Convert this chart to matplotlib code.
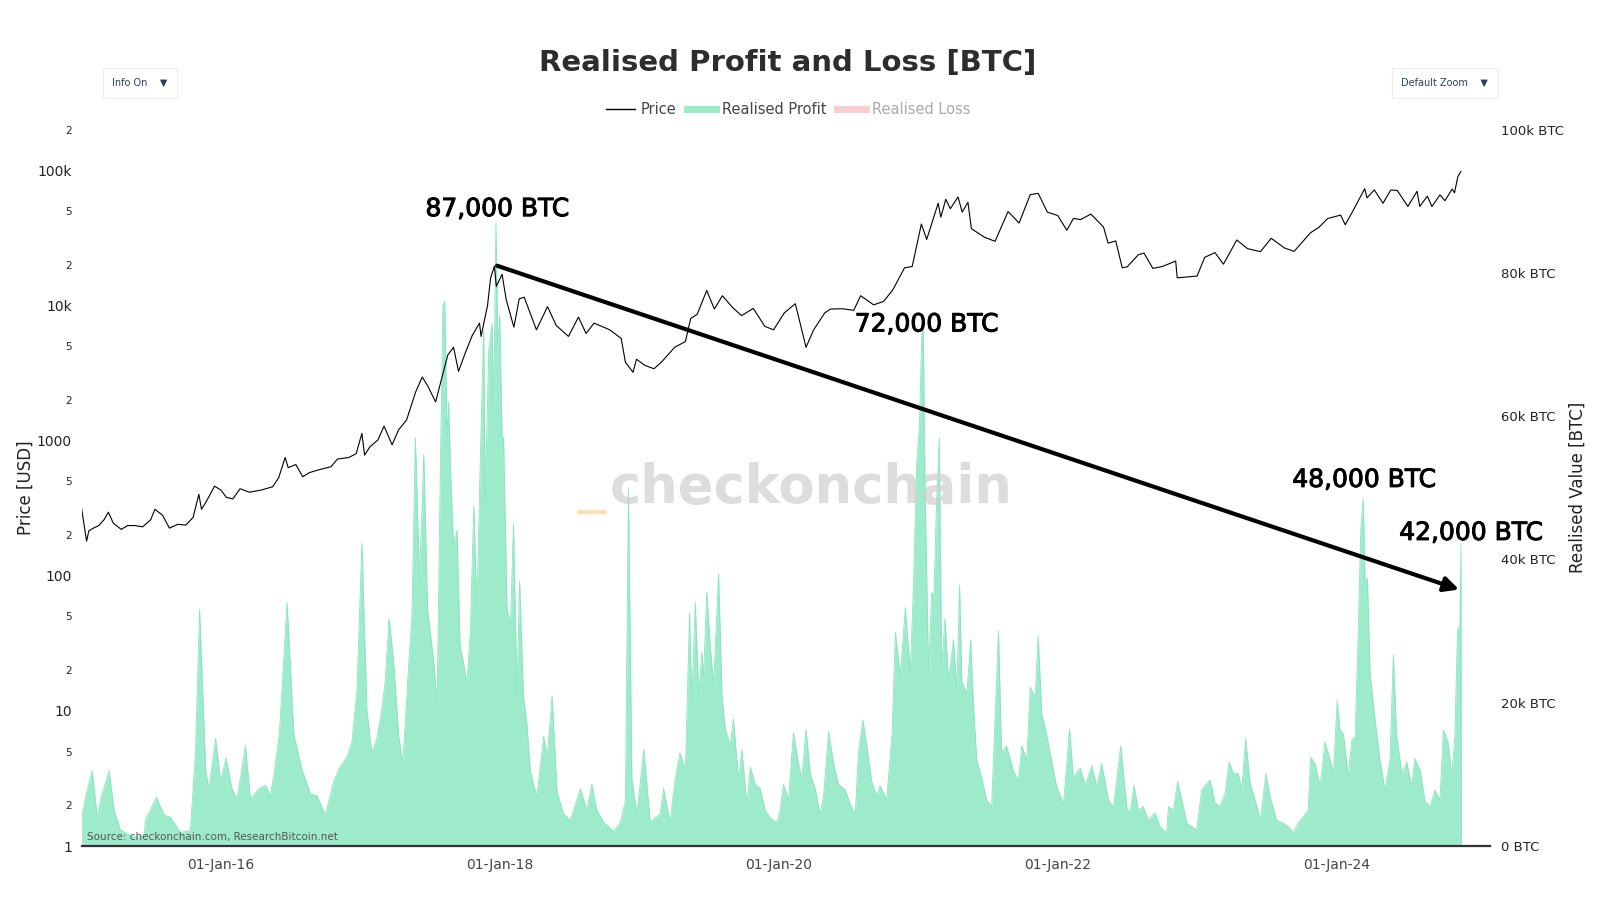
import pandas as pd
import matplotlib.pyplot as plt
import matplotlib.dates as mdates
import matplotlib.patheffects as pe
from matplotlib.lines import Line2D
from matplotlib.ticker import FixedLocator, FixedFormatter

# BTC price (USD)
price_dates = [
    '2015-01-01', '2015-01-14', '2015-01-20', '2015-02-01', '2015-02-15', '2015-03-01', '2015-03-12',
    '2015-03-25', '2015-04-15', '2015-05-01', '2015-05-20', '2015-06-10', '2015-07-01', '2015-07-12',
    '2015-08-01', '2015-08-19', '2015-09-10', '2015-10-01', '2015-10-20', '2015-11-04', '2015-11-11',
    '2015-11-25', '2015-12-15', '2016-01-01', '2016-01-15', '2016-02-01', '2016-02-20', '2016-03-15',
    '2016-04-15', '2016-05-15', '2016-05-31', '2016-06-17', '2016-06-25', '2016-07-15', '2016-08-02',
    '2016-08-20', '2016-09-15', '2016-10-15', '2016-11-01', '2016-12-01', '2016-12-20', '2017-01-04',
    '2017-01-11', '2017-01-25', '2017-02-15', '2017-03-03', '2017-03-24', '2017-04-10', '2017-05-01',
    '2017-05-25', '2017-06-11', '2017-06-25', '2017-07-16', '2017-07-30', '2017-08-17', '2017-09-01',
    '2017-09-14', '2017-10-01', '2017-10-20', '2017-11-08', '2017-11-12', '2017-11-29', '2017-12-07',
    '2017-12-17', '2017-12-22', '2018-01-06', '2018-01-17', '2018-02-06', '2018-02-20', '2018-03-05',
    '2018-04-06', '2018-05-05', '2018-05-28', '2018-06-29', '2018-07-25', '2018-08-14', '2018-09-04',
    '2018-10-15', '2018-11-14', '2018-11-25', '2018-12-15', '2018-12-24', '2019-01-15', '2019-02-08',
    '2019-03-01', '2019-04-03', '2019-05-01', '2019-05-15', '2019-06-01', '2019-06-26', '2019-07-16',
    '2019-08-06', '2019-09-01', '2019-09-25', '2019-10-26', '2019-11-25', '2019-12-18', '2020-01-15',
    '2020-02-13', '2020-03-12', '2020-04-01', '2020-04-30', '2020-05-15', '2020-06-15', '2020-07-15',
    '2020-08-02', '2020-09-05', '2020-10-01', '2020-10-25', '2020-11-25', '2020-12-15', '2021-01-08',
    '2021-01-22', '2021-02-21', '2021-02-28', '2021-03-13', '2021-03-25', '2021-04-14', '2021-04-25',
    '2021-05-10', '2021-05-19', '2021-06-22', '2021-07-20', '2021-08-23', '2021-09-21', '2021-10-20',
    '2021-11-10', '2021-12-04', '2021-12-31', '2022-01-24', '2022-02-10', '2022-03-01', '2022-03-28',
    '2022-04-30', '2022-05-12', '2022-06-01', '2022-06-18', '2022-07-01', '2022-07-30', '2022-08-14',
    '2022-09-06', '2022-10-01', '2022-11-05', '2022-11-09', '2022-12-31', '2023-01-20', '2023-02-16',
    '2023-03-10', '2023-04-14', '2023-05-12', '2023-06-15', '2023-07-13', '2023-08-17', '2023-09-11',
    '2023-10-24', '2023-11-15', '2023-12-08', '2024-01-11', '2024-01-23', '2024-02-15', '2024-03-14',
    '2024-03-20', '2024-04-08', '2024-05-01', '2024-05-21', '2024-06-07', '2024-07-05', '2024-07-29',
    '2024-08-05', '2024-08-25', '2024-09-06', '2024-09-27', '2024-10-10', '2024-10-29', '2024-11-04',
    '2024-11-13', '2024-11-21',
]
price_usd = [
    315, 180, 215, 225, 235, 260, 295,
    245, 220, 235, 235, 230, 260, 310,
    280, 225, 240, 237, 270, 400, 310,
    360, 460, 430, 380, 370, 440, 415,
    430, 455, 530, 750, 630, 665, 540,
    580, 610, 640, 730, 750, 800, 1130,
    780, 900, 1010, 1280, 930, 1200, 1420,
    2300, 2950, 2550, 1930, 2750, 4300, 4900,
    3250, 4400, 6000, 7400, 5900, 10000, 16000,
    19500, 13800, 17000, 11000, 6900, 11200, 11500,
    6600, 9800, 7100, 5900, 8200, 6200, 7400,
    6600, 5700, 3800, 3200, 4000, 3600, 3400,
    3850, 4900, 5400, 8000, 8600, 12900, 9400,
    11800, 9700, 8400, 9500, 7000, 6600, 8800,
    10300, 4900, 6600, 8800, 9400, 9450, 9200,
    11800, 10100, 10700, 13000, 19000, 19400, 40000,
    30800, 57000, 45000, 61000, 52000, 63500, 49000,
    58000, 37000, 32000, 29800, 49500, 40700, 66000,
    67500, 49000, 46300, 36000, 44000, 43200, 47400,
    38000, 28900, 30000, 19000, 19300, 23700, 24400,
    18800, 19400, 21300, 16000, 16500, 22700, 24600,
    20200, 30500, 26300, 25000, 31400, 26600, 25100,
    34500, 37800, 44000, 46600, 39500, 51800, 73100,
    62500, 71600, 57000, 71400, 71000, 54000, 69900,
    54000, 64300, 53900, 65800, 59500, 72700, 68000,
    90000, 98000,
]

# Realised profit (thousand BTC)
profit_dates = [
    '2015-01-01', '2015-01-14', '2015-01-29', '2015-02-11', '2015-02-22', '2015-03-14', '2015-03-27',
    '2015-04-13', '2015-05-09', '2015-05-27', '2015-06-13', '2015-06-18', '2015-07-16', '2015-08-05',
    '2015-08-22', '2015-09-17', '2015-10-13', '2015-10-26', '2015-11-06', '2015-11-22', '2015-11-30',
    '2015-12-18', '2015-12-31', '2016-01-14', '2016-01-30', '2016-02-12', '2016-03-05', '2016-03-18',
    '2016-04-09', '2016-04-26', '2016-05-09', '2016-05-18', '2016-06-02', '2016-06-22', '2016-07-10',
    '2016-07-31', '2016-08-22', '2016-09-09', '2016-09-30', '2016-10-22', '2016-11-04', '2016-11-26',
    '2016-12-09', '2016-12-22', '2017-01-04', '2017-01-17', '2017-01-30', '2017-02-12', '2017-02-25',
    '2017-03-06', '2017-03-16', '2017-03-28', '2017-04-10', '2017-04-21', '2017-05-06', '2017-05-15',
    '2017-05-24', '2017-06-04', '2017-06-15', '2017-06-25', '2017-07-11', '2017-07-20', '2017-07-28',
    '2017-08-04', '2017-08-09', '2017-08-15', '2017-08-19', '2017-08-25', '2017-09-01', '2017-09-10',
    '2017-09-18', '2017-09-27', '2017-10-06', '2017-10-15', '2017-10-24', '2017-11-01', '2017-11-10',
    '2017-11-19', '2017-11-23', '2017-12-02', '2017-12-11', '2017-12-15', '2017-12-21', '2017-12-26',
    '2017-12-31', '2018-01-06', '2018-01-10', '2018-01-19', '2018-01-28', '2018-02-05', '2018-02-14',
    '2018-02-21', '2018-03-03', '2018-03-12', '2018-03-21', '2018-04-07', '2018-04-25', '2018-05-04',
    '2018-05-17', '2018-05-30', '2018-06-16', '2018-07-04', '2018-07-30', '2018-08-16', '2018-08-29',
    '2018-09-11', '2018-09-29', '2018-10-25', '2018-11-12', '2018-11-25', '2018-12-03', '2018-12-12',
    '2018-12-25', '2019-01-12', '2019-01-29', '2019-02-24', '2019-03-05', '2019-03-22', '2019-04-04',
    '2019-04-17', '2019-05-01', '2019-05-12', '2019-05-18', '2019-05-27', '2019-06-05', '2019-06-13',
    '2019-06-18', '2019-06-26', '2019-07-05', '2019-07-14', '2019-07-27', '2019-08-05', '2019-08-13',
    '2019-08-26', '2019-09-04', '2019-09-17', '2019-09-26', '2019-10-09', '2019-10-18', '2019-10-31',
    '2019-11-13', '2019-11-26', '2019-12-09', '2019-12-27', '2020-01-04', '2020-01-13', '2020-01-26',
    '2020-02-08', '2020-02-21', '2020-03-01', '2020-03-12', '2020-03-23', '2020-04-05', '2020-04-18',
    '2020-04-27', '2020-05-10', '2020-05-23', '2020-06-05', '2020-06-22', '2020-07-06', '2020-07-19',
    '2020-07-27', '2020-08-08', '2020-08-18', '2020-08-31', '2020-09-13', '2020-09-22', '2020-10-09',
    '2020-10-23', '2020-11-01', '2020-11-14', '2020-11-27', '2020-12-10', '2020-12-18', '2020-12-27',
    '2021-01-03', '2021-01-09', '2021-01-13', '2021-01-18', '2021-01-27', '2021-02-04', '2021-02-10',
    '2021-02-17', '2021-02-24', '2021-03-02', '2021-03-11', '2021-03-20', '2021-04-02', '2021-04-11',
    '2021-04-18', '2021-04-24', '2021-05-07', '2021-05-17', '2021-05-24', '2021-06-02', '2021-06-15',
    '2021-06-28', '2021-07-11', '2021-07-29', '2021-08-06', '2021-08-19', '2021-09-06', '2021-09-19',
    '2021-09-28', '2021-10-11', '2021-10-20', '2021-11-02', '2021-11-10', '2021-11-19', '2021-12-02',
    '2021-12-15', '2021-12-28', '2022-01-15', '2022-01-31', '2022-02-10', '2022-02-28', '2022-03-13',
    '2022-03-30', '2022-04-12', '2022-04-25', '2022-05-13', '2022-05-26', '2022-06-14', '2022-06-30',
    '2022-07-08', '2022-07-19', '2022-07-30', '2022-08-12', '2022-08-25', '2022-09-12', '2022-09-25',
    '2022-10-12', '2022-10-17', '2022-10-30', '2022-11-10', '2022-11-21', '2022-12-04', '2022-12-17',
    '2022-12-30', '2023-01-12', '2023-01-25', '2023-02-03', '2023-02-16', '2023-03-01', '2023-03-14',
    '2023-03-25', '2023-04-05', '2023-04-18', '2023-04-27', '2023-05-07', '2023-05-19', '2023-06-01',
    '2023-06-15', '2023-06-29', '2023-07-10', '2023-07-27', '2023-08-14', '2023-08-27', '2023-09-09',
    '2023-09-22', '2023-10-05', '2023-10-18', '2023-10-24', '2023-11-05', '2023-11-18', '2023-12-01',
    '2023-12-14', '2023-12-23', '2024-01-02', '2024-01-09', '2024-01-18', '2024-01-31', '2024-02-09',
    '2024-02-18', '2024-02-26', '2024-03-04', '2024-03-10', '2024-03-15', '2024-03-21', '2024-03-28',
    '2024-04-10', '2024-04-23', '2024-05-06', '2024-05-19', '2024-05-28', '2024-06-05', '2024-06-19',
    '2024-07-02', '2024-07-15', '2024-07-23', '2024-08-06', '2024-08-19', '2024-09-01', '2024-09-14',
    '2024-09-27', '2024-10-06', '2024-10-19', '2024-10-28', '2024-11-05', '2024-11-12', '2024-11-18',
    '2024-11-21', '2024-11-22',
]
profit_kbtc = [
    4, 7.5, 10.5, 4, 7, 10.5, 5,
    2.2, 1.5, 1.2, 1.5, 3.7, 6.8, 4.3,
    4, 1.9, 2.2, 13, 33, 10.5, 8,
    15, 9, 12.3, 8, 6.5, 14, 6.5,
    8, 8.5, 7, 9.8, 15.8, 34, 15.5,
    10.7, 7.3, 7, 4.3, 9, 10.7, 12.5,
    14.6, 21.7, 42.3, 19, 13, 15, 19,
    23, 31.8, 25.8, 15.5, 11.5, 24.8, 32.3,
    57, 36.8, 54.7, 33, 25.8, 20, 51,
    75.6, 76, 57, 62, 51, 42, 44,
    28, 25.6, 22.6, 30, 47.5, 33, 54,
    72, 48, 69, 73, 60.6, 87, 70,
    74, 57, 57, 33, 31, 45, 21,
    37, 21, 17, 10.5, 6.9, 15.3, 12.3,
    21, 7.5, 4.5, 3.6, 8, 5, 8.6,
    5, 3.3, 2.1, 3.3, 6.3, 50, 9.3,
    4.5, 13.5, 3.3, 4.5, 8, 3.3, 9.3,
    13, 10.5, 32.5, 20, 34, 21, 27,
    24, 35.5, 28, 22.6, 38, 21, 16.5,
    14, 17.7, 9.3, 13.5, 5.7, 11, 8.6,
    8, 5, 3.9, 3.3, 5, 8.6, 6.4,
    15.8, 11.5, 9.5, 16.3, 10, 8, 4.4,
    7, 16, 11.5, 8.6, 7.9, 5.8, 4.4,
    13, 17.6, 14, 9, 7, 8.4, 6.4,
    15.5, 29.8, 23.7, 33.3, 24.2, 35.9, 53.6,
    58.7, 71.4, 72, 48.5, 24.2, 35.4, 34.9,
    48.5, 57, 24.7, 31.8, 23, 28.8, 21.7,
    36.4, 23, 21.2, 28.8, 20, 12, 9.5,
    6.4, 5.5, 30, 13, 14, 10.5, 9,
    14, 12, 22.2, 20.7, 29.3, 18.6, 15.5,
    11.9, 8.4, 5.8, 16.3, 9.5, 10.9, 8.4,
    11.2, 8.4, 11.5, 6.4, 5.4, 14, 5.4,
    4.6, 8.5, 5, 5.5, 3.6, 4.6, 2.7,
    1.8, 5.5, 5, 9, 6.4, 3.2, 2.7,
    2.3, 7.8, 8.7, 9.2, 6, 5.5, 7.3,
    11.7, 10.1, 10.1, 7.8, 15, 8.7, 6.4,
    3.6, 10.1, 6.9, 3.6, 3.2, 2.7, 1.8,
    3.2, 4.1, 5, 12.4, 11.5, 8.3, 14.5,
    12, 10.1, 20.3, 16.2, 15.7, 9.7, 14.8,
    15.3, 30.2, 44.6, 48.5, 36.7, 37.4, 24.1,
    17.6, 12, 7.8, 12, 26.7, 15.7, 10.1,
    11.7, 8.3, 12.2, 10.6, 6.2, 5.5, 7.8,
    6.4, 16.2, 14.3, 9.7, 15.3, 30.2, 30.7,
    42, 0,
]

x_tick_dates = ['2016-01-01', '2018-01-01', '2020-01-01', '2022-01-01', '2024-01-01']
x_tick_labels = ['01-Jan-16', '01-Jan-18', '01-Jan-20', '01-Jan-22', '01-Jan-24']
price_major = [1, 10, 100, 1000, 10000, 100000]
price_major_labels = ['1', '10', '100', '1000', '10k', '100k']
price_minor = [2, 5, 20, 50, 200, 500, 2000, 5000, 20000, 50000, 200000]
btc_ticks = [0, 20000, 40000, 60000, 80000, 100000]
btc_tick_labels = ['0 BTC', '20k BTC', '40k BTC', '60k BTC', '80k BTC', '100k BTC']

# peak call-outs: (label, x date, y in BTC)
callouts = [
    ('87,000 BTC', '2017-12-25', 88900),
    ('72,000 BTC', '2021-01-22', 72800),
    ('48,000 BTC', '2024-03-13', 51100),
    ('42,000 BTC', '2024-12-18', 43700),
]
arrow_start = ('2017-12-24', 81000)
arrow_end = ('2024-11-16', 35800)

GREEN = '#9DEBCB'

pdates = pd.to_datetime(price_dates)
rdates = pd.to_datetime(profit_dates)
profit_btc = [v * 1000 for v in profit_kbtc]

fig = plt.figure(figsize=(16, 9), dpi=100)
ax = fig.add_axes([0.051, 0.06, 0.880, 0.796])
ax2 = ax.twinx()

# realised profit on the right axis, drawn underneath the price
ax2.fill_between(rdates, 0, profit_btc, color=GREEN, lw=0)
ax2.plot(rdates, profit_btc, color='#86E6BD', lw=0.6)
ax2.set_ylim(0, 100000)

ax.plot(pdates, price_usd, color='black', lw=0.8)
ax.set_yscale('log')
ax.set_ylim(1, 200000)
ax.set_xlim(pd.Timestamp('2015-01-01'), pd.Timestamp('2025-02-04'))
ax.set_zorder(ax2.get_zorder() + 1)
ax.patch.set_visible(False)

# left axis ticks
ax.yaxis.set_major_locator(FixedLocator(price_major))
ax.yaxis.set_major_formatter(FixedFormatter(price_major_labels))
ax.yaxis.set_minor_locator(FixedLocator(price_minor))
ax.yaxis.set_minor_formatter(FixedFormatter(['2', '5'] * 5 + ['2']))
ax.tick_params(axis='y', which='major', length=0, pad=7, labelsize=10, labelcolor='#222222')
ax.tick_params(axis='y', which='minor', length=0, pad=7, labelsize=7.5, labelcolor='#222222')

# right axis ticks
ax2.set_yticks(btc_ticks)
ax2.set_yticklabels(btc_tick_labels)
ax2.tick_params(axis='y', length=0, pad=8, labelsize=9.5, labelcolor='#222222')

ax.set_xticks(pd.to_datetime(x_tick_dates))
ax.set_xticklabels(x_tick_labels)
ax.tick_params(axis='x', length=0, pad=9, labelsize=10, labelcolor='#444444')

for a in (ax, ax2):
    for s in a.spines.values():
        s.set_visible(False)
ax.spines['bottom'].set_visible(True)
ax.spines['bottom'].set_color('#333333')
ax.spines['bottom'].set_linewidth(1.6)

# watermark: grey word with a short orange dash before it
ax.text(0.518, 0.50, 'checkonchain', transform=ax.transAxes, ha='center', va='center',
        fontsize=38, fontweight='bold', color='#cfcfcf', alpha=0.7, zorder=1)
ax.plot([0.352, 0.373], [0.466, 0.466], transform=ax.transAxes, color='#fcd9a6',
        lw=3.2, alpha=0.8, solid_capstyle='butt', zorder=1)

ax.text(0.0036, 0.013, 'Source: checkonchain.com, ResearchBitcoin.net', transform=ax.transAxes,
        ha='left', va='center', fontsize=7.5, color='#555555', zorder=5)

# trend arrow and call-outs, placed in BTC units
ax.annotate('', xy=(mdates.date2num(pd.Timestamp(arrow_end[0])), arrow_end[1]),
            xytext=(mdates.date2num(pd.Timestamp(arrow_start[0])), arrow_start[1]),
            xycoords=ax2.transData, textcoords=ax2.transData,
            arrowprops=dict(arrowstyle='-|>', lw=3, color='black', mutation_scale=22,
                            shrinkA=0, shrinkB=0), zorder=6)
for label, d, y in callouts:
    ax.text(mdates.date2num(pd.Timestamp(d)), y, label, transform=ax2.transData,
            ha='center', va='center', fontsize=18, color='black', zorder=7,
            path_effects=[pe.withStroke(linewidth=0.7, foreground='black')])

# titles and labels
fig.text(0.4925, 0.9297, 'Realised Profit and Loss [BTC]', ha='center', va='center',
         fontsize=21, fontweight='bold', color='#2d2d2d')
fig.text(0.016, 0.458, 'Price [USD]', rotation=90, ha='center', va='center', fontsize=12,
         color='#222222')
fig.text(0.9858, 0.458, 'Realised Value [BTC]', rotation=90, ha='center', va='center',
         fontsize=12, color='#222222')

handles = [Line2D([0], [0], color='black', lw=1),
           Line2D([0], [0], color=GREEN, lw=5),
           Line2D([0], [0], color='#F9CCD6', lw=5)]
leg = fig.legend(handles, ['Price', 'Realised Profit', 'Realised Loss'], loc='center',
                 bbox_to_anchor=(0.4925, 0.878), ncol=3, frameon=False, fontsize=10.5,
                 handlelength=2.0, columnspacing=0.7, handletextpad=0.4)
leg.get_texts()[0].set_color('#444444')
leg.get_texts()[1].set_color('#444444')
leg.get_texts()[2].set_color('#aaaaaa')

# dropdown buttons
fig.text(0.0875, 0.908, 'Info On    \u25bc', ha='center', va='center', fontsize=7, color='#2a3f5f',
         bbox=dict(boxstyle='square,pad=1.0', fc='white', ec='#eeeeee', lw=0.8))
fig.text(0.903, 0.908, 'Default Zoom    \u25bc', ha='center', va='center', fontsize=7,
         color='#2a3f5f', bbox=dict(boxstyle='square,pad=1.0', fc='white', ec='#eeeeee', lw=0.8))

fig.savefig('out.png', dpi=100, facecolor='white')
